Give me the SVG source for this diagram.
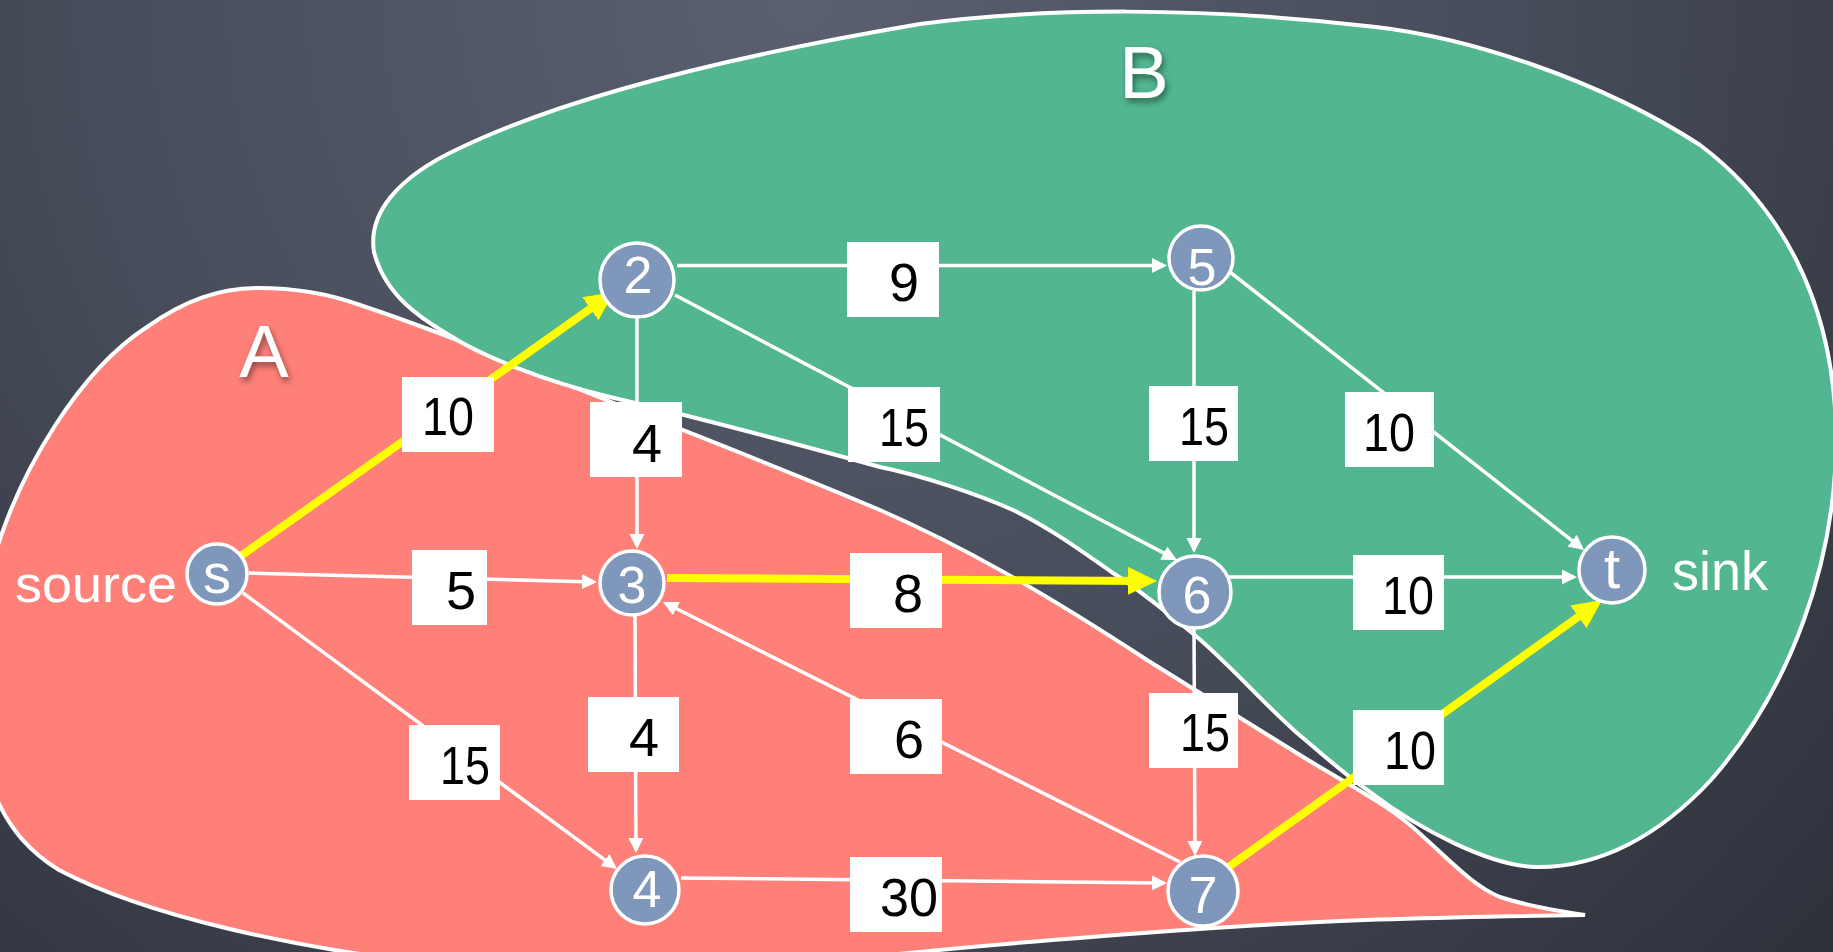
<svg xmlns="http://www.w3.org/2000/svg" width="1833" height="952" viewBox="0 0 1833 952">
<defs>
<radialGradient id="bg" cx="800" cy="0" r="1450" gradientUnits="userSpaceOnUse">
<stop offset="0" stop-color="#5a6070"/>
<stop offset="0.5" stop-color="#464c59"/>
<stop offset="1" stop-color="#2c2f38"/>
</radialGradient>
<filter id="sh" x="-30%" y="-30%" width="160%" height="160%">
<feDropShadow dx="2" dy="4" stdDeviation="3" flood-color="#000" flood-opacity="0.45"/>
</filter>
<marker id="aw" markerUnits="userSpaceOnUse" markerWidth="16" markerHeight="16" refX="12" refY="7.5" orient="auto">
<path d="M0,0 L15,7.5 L0,15 Z" fill="#fff"/>
</marker>
<marker id="ay" markerUnits="userSpaceOnUse" markerWidth="30" markerHeight="30" refX="21" refY="14" orient="auto">
<path d="M0,0 L29,14 L0,28 Z" fill="#ffff00"/>
</marker>
<style>
.region{stroke:#fff;stroke-width:4;}
.e{stroke:#fff;stroke-width:3.5;fill:none;marker-end:url(#aw);}
.y{stroke:#ffff00;stroke-width:8;fill:none;marker-end:url(#ay);}
.box{fill:#fff;}
.lt{font-family:"Liberation Sans",Arial,sans-serif;font-size:54px;fill:#000;text-anchor:middle;}
.node circle{fill:#7f97ba;stroke:#fff;stroke-width:3.5;}
.nt{font-family:"Liberation Sans",Arial,sans-serif;font-size:52px;fill:#fff;text-anchor:middle;}
.big{font-family:"Liberation Sans",Arial,sans-serif;font-size:74px;fill:#fff;text-anchor:middle;}
.side{font-family:"Liberation Sans",Arial,sans-serif;fill:#fff;}
</style>
</defs>
<rect x="0" y="0" width="1833" height="952" fill="url(#bg)"/>

<g id="region-A">
<path class="region" fill="#ff7f79" d="M -5,555 C 20,470 80,370 147,327 C 185,300 220,288 258,288 C 300,288 335,296 360,305 C 420,325 480,348 556,380 C 640,414 750,455 880,510 C 960,545 1040,590 1147,660 C 1200,693 1260,730 1300,755 C 1340,780 1380,800 1410,825 C 1440,850 1470,885 1500,897 C 1530,907 1560,911 1585,915 C 1450,917 1350,920 1300,923 C 1200,928 1000,943 880,956 L 880,962 L 420,962 C 300,948 150,918 59,870 C 30,852 10,830 -5,795 Z"/>
<text class="big" x="264" y="377" filter="url(#sh)">A</text>
</g>
<g id="region-B">
<path class="region" fill="#52b690" d="M 374,252 C 368,215 395,178 460,148 C 560,100 720,58 920,24 C 1040,8 1200,6 1376,27 C 1470,38 1600,80 1700,145 C 1780,205 1833,300 1836,430 C 1838,560 1790,690 1711,780 C 1660,835 1600,868 1536,867 C 1490,866 1420,830 1370,792 C 1345,775 1320,752 1297,733 C 1260,700 1230,665 1197,637 C 1170,615 1140,590 1113,573 C 1080,550 1050,528 1013,510 C 980,495 920,475 880,467 C 800,445 700,418 610,397 C 540,380 480,355 449,335 C 420,318 385,295 374,252 Z"/>
<text class="big" x="1144" y="98" filter="url(#sh)">B</text>
</g>

<g id="connectors">
<line class="e" x1="249" y1="573" x2="594" y2="582"/>
<line class="e" x1="243" y1="593" x2="614.6" y2="867.2"/>
<line class="e" x1="677" y1="265.5" x2="1164" y2="265.5"/>
<line class="e" x1="637" y1="318" x2="637" y2="546"/>
<line class="e" x1="675" y1="295" x2="1174.3" y2="558.6"/>
<line class="e" x1="1194" y1="291" x2="1194" y2="550"/>
<line class="e" x1="1221" y1="265" x2="1581.6" y2="548.1"/>
<line class="e" x1="635" y1="616" x2="636" y2="850"/>
<line class="e" x1="1180" y1="862" x2="665.7" y2="603.3"/>
<line class="e" x1="681" y1="878" x2="1164" y2="883"/>
<line class="e" x1="1222" y1="577" x2="1574" y2="577"/>
<line class="e" x1="1194" y1="629" x2="1195" y2="853"/>
<line class="y" x1="238" y1="558" x2="607.5" y2="296.6"/>
<line class="y" x1="667" y1="578" x2="1149" y2="581"/>
<line class="y" x1="1227" y1="868" x2="1595.5" y2="604.6"/>
</g>

<g id="edge-labels">
<rect class="box" x="402" y="377" width="92" height="75"/><text class="lt" x="448" y="435" textLength="52" lengthAdjust="spacingAndGlyphs">10</text>
<rect class="box" x="590" y="402" width="92" height="75"/><text class="lt" x="647" y="462">4</text>
<rect class="box" x="847" y="242" width="92" height="75"/><text class="lt" x="904" y="301">9</text>
<rect class="box" x="848" y="387" width="92" height="75"/><text class="lt" x="904" y="446" textLength="50" lengthAdjust="spacingAndGlyphs">15</text>
<rect class="box" x="1149" y="386" width="89" height="75"/><text class="lt" x="1204" y="445" textLength="50" lengthAdjust="spacingAndGlyphs">15</text>
<rect class="box" x="1345" y="392" width="89" height="75"/><text class="lt" x="1389" y="451" textLength="52" lengthAdjust="spacingAndGlyphs">10</text>
<rect class="box" x="412" y="550" width="75" height="75"/><text class="lt" x="461" y="609">5</text>
<rect class="box" x="850" y="553" width="92" height="75"/><text class="lt" x="908" y="612">8</text>
<rect class="box" x="409" y="725" width="91" height="75"/><text class="lt" x="465" y="784" textLength="50" lengthAdjust="spacingAndGlyphs">15</text>
<rect class="box" x="588" y="697" width="91" height="75"/><text class="lt" x="644" y="756">4</text>
<rect class="box" x="850" y="699" width="92" height="75"/><text class="lt" x="909" y="758">6</text>
<rect class="box" x="850" y="857" width="92" height="75"/><text class="lt" x="909" y="916" textLength="58" lengthAdjust="spacingAndGlyphs">30</text>
<rect class="box" x="1353" y="555" width="91" height="75"/><text class="lt" x="1408" y="614" textLength="52" lengthAdjust="spacingAndGlyphs">10</text>
<rect class="box" x="1149" y="693" width="89" height="75"/><text class="lt" x="1205" y="751" textLength="50" lengthAdjust="spacingAndGlyphs">15</text>
<rect class="box" x="1353" y="710" width="91" height="75"/><text class="lt" x="1410" y="769" textLength="52" lengthAdjust="spacingAndGlyphs">10</text>
</g>

<g id="node-s" class="node"><circle cx="217" cy="574" r="30"/><text class="nt" x="217" y="593" style="font-size:56px">s</text></g>
<g id="node-2" class="node"><circle cx="637" cy="280" r="37"/><text class="nt" x="638" y="293">2</text></g>
<g id="node-5" class="node"><circle cx="1201" cy="258" r="32"/><text class="nt" x="1202" y="285">5</text></g>
<g id="node-3" class="node"><circle cx="632" cy="583" r="32"/><text class="nt" x="632" y="603">3</text></g>
<g id="node-6" class="node"><circle cx="1195" cy="592" r="36"/><text class="nt" x="1197" y="613">6</text></g>
<g id="node-t" class="node"><circle cx="1612" cy="570" r="33"/><text class="nt" x="1612" y="588" style="font-size:58px">t</text></g>
<g id="node-4" class="node"><circle cx="645" cy="890" r="34"/><text class="nt" x="647" y="907">4</text></g>
<g id="node-7" class="node"><circle cx="1203" cy="891" r="35"/><text class="nt" x="1203" y="913">7</text></g>

<text class="side" x="15" y="602" style="font-size:52px" textLength="162" lengthAdjust="spacingAndGlyphs">source</text>
<text class="side" x="1672" y="590" style="font-size:55px" textLength="96" lengthAdjust="spacingAndGlyphs">sink</text>
</svg>
